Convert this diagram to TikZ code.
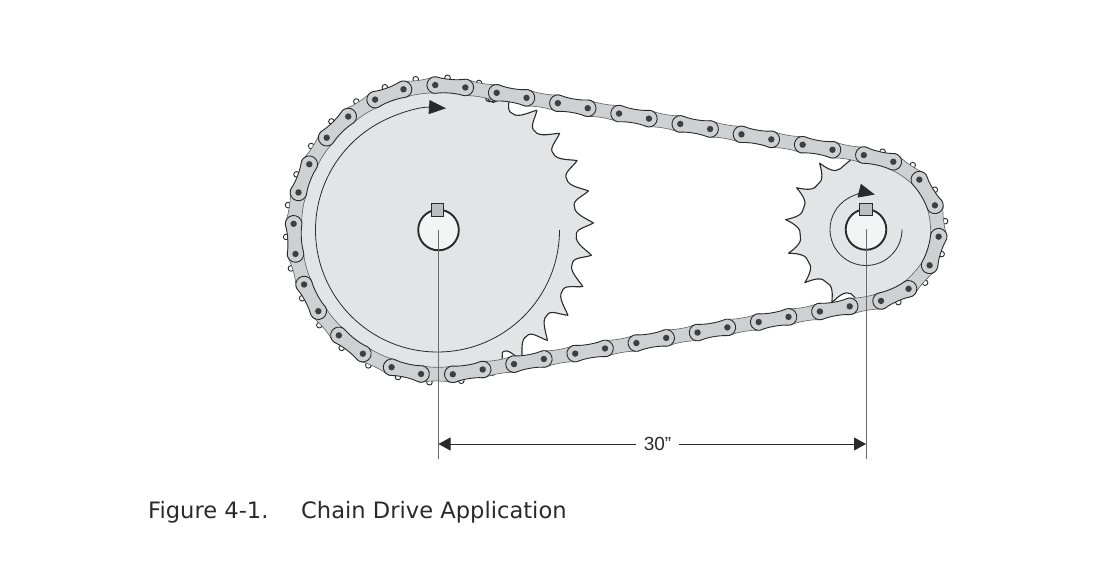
\documentclass[tikz,border=0pt]{standalone}
\usepackage{fontspec}
\setmainfont{Liberation Sans}
\newfontfamily\captionfont{DejaVu Sans}
\usetikzlibrary{arrows.meta,calc,decorations.markings}

\definecolor{wheelgray}{HTML}{E3E4E6}
\definecolor{plategray}{HTML}{CFD0D2}
\definecolor{keygray}{HTML}{BDBEC0}
\definecolor{hubwhite}{HTML}{F3F5F4}
\definecolor{inkdark}{HTML}{2B2A2B}

% one chain plate between two pins
\newcommand{\chainplate}[3]{
    \draw[#1] let \p1=(#2), \p2=(#3), \n1={atan2(\y2-\y1,\x2-\x1)} in
        ($(\p1)+({\n1+72}:8.3)$) arc[start angle={\n1+72}, delta angle=216, radius=8.3]
        .. controls +({\n1+12}:7) and +({\n1+168}:7) .. ($(\p2)+({\n1-108}:8.3)$)
        arc[start angle={\n1-108}, delta angle=216, radius=8.3]
        .. controls +({\n1+192}:7) and +({\n1-12}:7) .. cycle;
}

\begin{document}
\begin{tikzpicture}[x=1pt, y=1pt]
    \tikzset{
        sprocket/.style={draw=inkdark, fill=wheelgray, line width=1.1pt, line join=round},
        tiptooth/.style={draw=inkdark, fill=white, line width=0.9pt},
        innerplate/.style={draw=inkdark!75, fill=plategray, line width=0.6pt},
        outerplate/.style={draw=inkdark, fill=plategray, line width=0.9pt},
        pindot/.style={fill=inkdark!90, draw=none},
        hub/.style={draw=inkdark, fill=hubwhite, line width=1.9pt},
        keybox/.style={draw=inkdark, fill=keygray, line width=1.2pt},
        turnarrow/.style={draw=inkdark, line width=0.8pt},
        dimline/.style={draw=inkdark, line width=0.8pt},
        witness/.style={draw=inkdark!70, line width=1pt},
        caption/.style={inner sep=0pt, anchor=base west, text=inkdark, font=\captionfont\fontsize{22.6}{26}\selectfont}
    }
    \useasboundingbox (0,0) rectangle (1102,584);

    \coordinate (bigc) at (438.5,354);
    \coordinate (smallc) at (866,354.5);

    % Large sprocket
    \begin{scope}[shift={(bigc)}]
        \foreach \t in {74.6,86.6,...,290.6} {
            \draw[tiptooth] (\t:152.5) circle[radius=2.8];
        }
        \draw[sprocket] (72:145) -- (69.6:138)
            \foreach \t in {62.6,50.6,...,-57.4} {
                .. controls ({\t+4}:136.5) and ({\t+1.5}:150) .. (\t:155)
                .. controls ({\t-1.5}:148) and ({\t-2}:136.5) .. ({\t-5}:138)
            }
            -- (-64:145) arc[start angle=-64, end angle=-288, radius=145] -- cycle;
        \draw[sprocket, fill=none] (48.5,134) .. controls (50,125) and (60,126) .. (61.5,134);
        \draw[turnarrow, -{Triangle[length=17pt, width=14pt]}] (0:121) arc[start angle=0, end angle=-274, radius=122];
    \end{scope}

    % Small sprocket
    \begin{scope}[shift={(smallc)}]
        \foreach \t in {78,54,...,-66} {
            \draw[tiptooth] (\t:79.5) circle[radius=2.8];
        }
        \draw[sprocket] (265:73) -- (257:66)
            \foreach \t in {245,221,...,125} {
                .. controls ({\t+6}:64.5) and ({\t+2.5}:72) .. (\t:81)
                .. controls ({\t-2.5}:72) and ({\t-6}:64.5) .. ({\t-12}:66)
            }
            -- (100:73) arc[start angle=100, end angle=-95, radius=73] -- cycle;
        \draw[turnarrow, -{Triangle[length=16pt, width=14pt]}] (0:36) arc[start angle=0, end angle=-284, radius=36];
    \end{scope}

    % Chain pins along the belt line
    \path[postaction={decorate, decoration={markings,
            mark=between positions 0 and 0.97 step 0.04 with
                {\coordinate (pina\pgfkeysvalueof{/pgf/decoration/mark info/sequence number});}}},
          postaction={decorate, decoration={markings,
            mark=between positions 0.0195 and 0.98 step 0.04 with
                {\coordinate (pinb\pgfkeysvalueof{/pgf/decoration/mark info/sequence number});}}}]
        ($(bigc)+(91.3:145)$) arc[start angle=91.3, end angle=80.32, radius=145]
        -- ($(smallc)+(80.32:73)$) arc[start angle=80.32, end angle=-80.32, radius=73]
        -- ($(bigc)+(-80.32:145)$) arc[start angle=279.68, end angle=91.3, radius=145];

    % Chain plates
    \foreach \i [evaluate=\i as \j using {int(mod(\i,25)+1)}] in {1,...,25} {
        \chainplate{innerplate}{pinb\i}{pina\j}
    }
    \foreach \i in {1,...,25} {
        \chainplate{outerplate}{pina\i}{pinb\i}
        \fill[pindot] (pina\i) circle[radius=3.2];
        \fill[pindot] (pinb\i) circle[radius=3.2];
    }

    % Hubs with keys
    \draw[hub] (bigc) circle[radius=20.3];
    \node[keybox, minimum size=12.5pt, inner sep=0pt] (bigkey) at (437.5,374) {};
    \draw[hub] (smallc) circle[radius=20.3];
    \node[keybox, minimum size=12.5pt, inner sep=0pt] (smallkey) at (866,374.5) {};

    % Centre distance
    \coordinate (bigfoot) at (438.5,125);
    \coordinate (smallfoot) at (866,125);
    \coordinate (bigdim) at (438.5,140);
    \coordinate (smalldim) at (866,140);
    \draw[witness] (bigc) -- (bigfoot);
    \draw[witness] (smallc) -- (smallfoot);
    \node[inner sep=0pt, minimum width=42pt, minimum height=18pt, font=\fontsize{19}{22}\selectfont, text=inkdark] (dimlabel) at (657.5,140) {30”};
    \draw[dimline, -{Triangle[length=12pt, width=13pt]}] (dimlabel) -- (bigdim);
    \draw[dimline, -{Triangle[length=12pt, width=13pt]}] (dimlabel) -- (smalldim);

    \node[caption] (figlabel) at (148,66) {Figure 4-1.};
    \node[caption] (figtitle) at (301,66) {Chain Drive Application};
\end{tikzpicture}
\end{document}
